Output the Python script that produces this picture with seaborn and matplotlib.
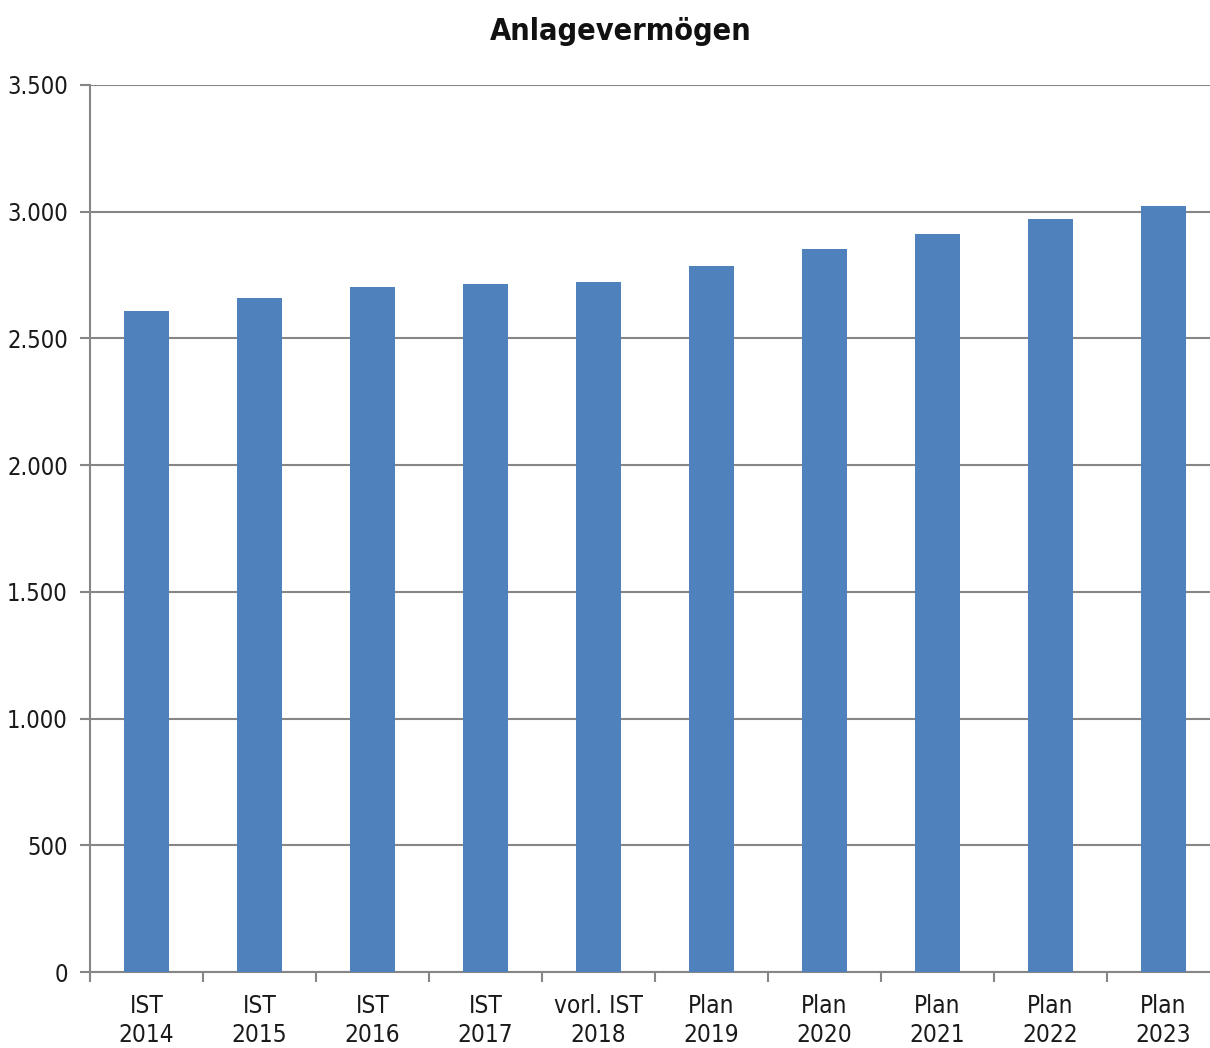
import matplotlib
matplotlib.use("Agg")
import matplotlib.pyplot as plt
import matplotlib.ticker as mticker
import numpy as np
import pandas as pd
import seaborn as sns

categories = ["IST\n2014", "IST\n2015", "IST\n2016", "IST\n2017", "vorl. IST\n2018",
              "Plan\n2019", "Plan\n2020", "Plan\n2021", "Plan\n2022", "Plan\n2023"]
values = [2609, 2659, 2703, 2716, 2724, 2787, 2852, 2912, 2972, 3023]
y_ticks = [0, 500, 1000, 1500, 2000, 2500, 3000, 3500]

df = pd.DataFrame({"Kategorie": categories, "Wert": values})

sns.set_style("white")
plt.rcParams["font.family"] = ["Liberation Sans Narrow", "DejaVu Sans"]
plt.rcParams["font.stretch"] = "condensed"

fig = plt.figure(figsize=(12.1, 10.48), dpi=100)
# plot area runs a little past the right edge of the picture, as in the original
ax = fig.add_axes([90 / 1210, 1 - 972 / 1048, 1130 / 1210, (972 - 85) / 1048])

sns.barplot(data=df, x="Kategorie", y="Wert", color="#4F81BD", width=0.4,
            saturation=1, linewidth=0, edgecolor="none", ax=ax, zorder=3)

ax.set_ylim(0, 3500)
ax.set_xlim(-0.5, len(categories) - 0.5)
ax.set_yticks(y_ticks)
ax.yaxis.set_major_formatter(mticker.FuncFormatter(lambda v, p: f"{int(v):,}".replace(",", ".")))
ax.grid(axis="y", color="#868686", linewidth=1.5, zorder=0)
ax.set_axisbelow(True)

for s in ["top", "right"]:
    ax.spines[s].set_visible(False)
for s in ["left", "bottom"]:
    ax.spines[s].set_color("#868686")
    ax.spines[s].set_linewidth(1.5)

ax.tick_params(axis="y", left=True, length=7, width=1.5, color="#868686", labelsize=17, pad=9, labelcolor="#1a1a1a")
ax.tick_params(axis="x", which="major", bottom=False, length=0, labelsize=17.5, pad=16, labelcolor="#1a1a1a")
ax.set_xticks(np.arange(-0.5, len(categories)), minor=True)
ax.tick_params(axis="x", which="minor", bottom=True, length=7, width=1.5, color="#868686")
for lbl in ax.get_xticklabels():
    lbl.set_linespacing(1.25)

ax.set_xlabel("")
ax.set_ylabel("")
fig.text(621 / 1210, 1 - 31 / 1048, "Anlagevermögen", ha="center", va="center",
         fontsize=22, fontweight="bold", color="#111111")

fig.savefig("out.png", dpi=100)
